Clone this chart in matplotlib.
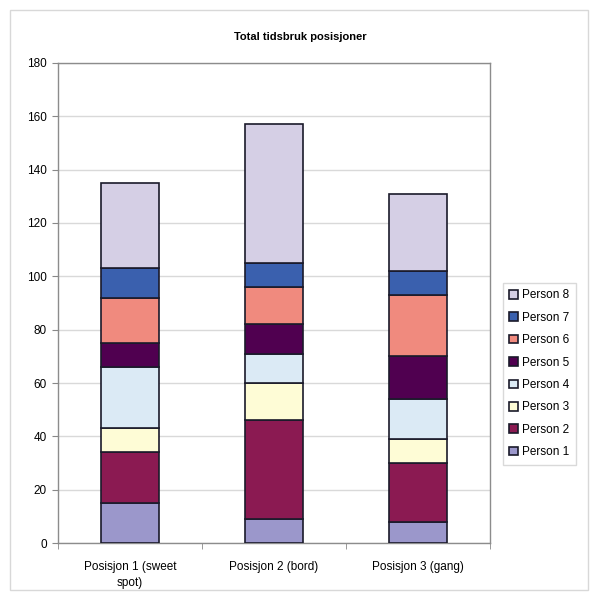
import matplotlib
matplotlib.use("Agg")
import matplotlib.pyplot as plt
from matplotlib.patches import Rectangle
import numpy as np

plt.rcParams['font.family'] = ['Liberation Sans', 'DejaVu Sans']

categories = ["Posisjon 1 (sweet\nspot)", "Posisjon 2 (bord)", "Posisjon 3 (gang)"]
series_names = ["Person 1", "Person 2", "Person 3", "Person 4",
                "Person 5", "Person 6", "Person 7", "Person 8"]
person_1 = [15, 9, 8]
person_2 = [19, 37, 22]
person_3 = [9, 14, 9]
person_4 = [23, 11, 15]
person_5 = [9, 11, 16]
person_6 = [17, 14, 23]
person_7 = [11, 9, 9]
person_8 = [32, 52, 29]
series_values = [person_1, person_2, person_3, person_4,
                 person_5, person_6, person_7, person_8]
colors = ["#9b97cb", "#8b1a52", "#fefcd6", "#dbeaf5",
          "#500050", "#f08a7e", "#3a60ae", "#d5cfe5"]
y_ticks = [0, 20, 40, 60, 80, 100, 120, 140, 160, 180]

fig = plt.figure(figsize=(5.91, 5.92), dpi=100)
fig.patch.set_facecolor("white")
fig.add_artist(Rectangle((10 / 591, 2 / 592), 578 / 591, 580 / 592,
                         transform=fig.transFigure, fill=False,
                         edgecolor="#d8d8d8", linewidth=1.0))

ax = fig.add_axes([58 / 591, 1 - 543 / 592, 432 / 591, 480 / 592])
x = np.arange(len(categories))
bottom = np.zeros(len(categories))
handles = []
for name, vals, col in zip(series_names, series_values, colors):
    h = ax.bar(x, vals, width=0.4, bottom=bottom, color=col,
               edgecolor="#1a1a2a", linewidth=1.2, label=name, zorder=3)
    handles.append(h)
    bottom += np.array(vals)

ax.set_xlim(-0.5, len(categories) - 0.5)
ax.set_ylim(0, 180)
ax.set_yticks(y_ticks)
ax.yaxis.grid(True, color="#d9d9d9", linewidth=1.0, zorder=0)
ax.set_axisbelow(True)
ax.tick_params(axis="y", labelsize=8.5, length=4, color="#888888", pad=4)
ax.set_xticks(x)
ax.set_xticklabels(categories, fontsize=8.5, linespacing=1.45)
ax.tick_params(axis="x", length=0, pad=13)
ax.set_xticks(np.arange(-0.5, len(categories) + 0.5, 1.0), minor=True)
ax.tick_params(axis="x", which="minor", length=4, color="#888888")
for s in ax.spines.values():
    s.set_color("#8c8c8c")
    s.set_linewidth(1.0)

fig.text(0.508, 1 - 37 / 592, "Total tidsbruk posisjoner", ha="center",
         va="center", fontsize=8, fontweight="bold")

leg = fig.legend(handles[::-1], series_names[::-1], loc="upper left",
                 bbox_to_anchor=(503 / 591, 1 - 283 / 592), fontsize=8.5,
                 frameon=True, fancybox=False, edgecolor="#d0d0d0",
                 handlelength=0.75, handleheight=0.75, handletextpad=0.35,
                 labelspacing=0.88, borderpad=0.55, borderaxespad=0)

fig.savefig("out.png", dpi=100, facecolor="white")
